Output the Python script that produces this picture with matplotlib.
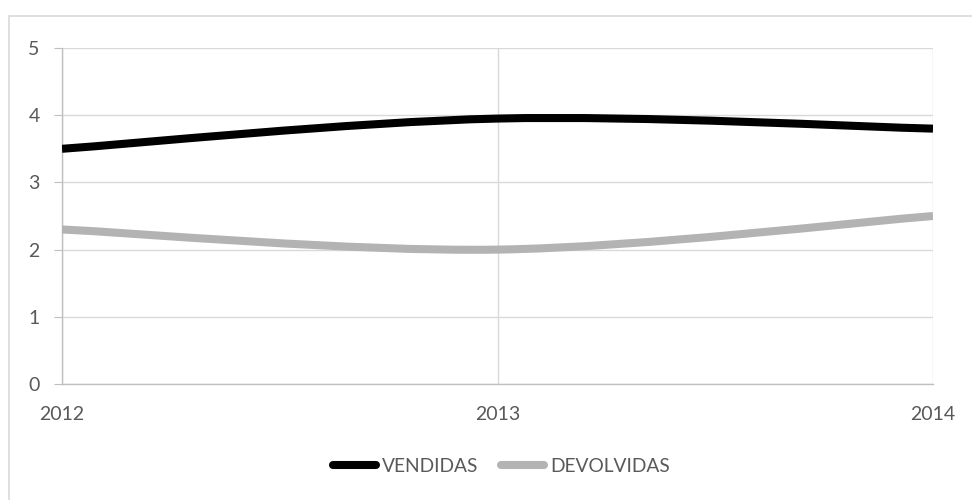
import numpy as np
import matplotlib.pyplot as plt
from matplotlib.path import Path
from matplotlib.patches import PathPatch, Rectangle
from matplotlib.lines import Line2D

plt.rcParams['font.family'] = ['Lato', 'DejaVu Sans']

anos = [2012, 2013, 2014]
vendidas = [3.5, 3.95, 3.8]
devolvidas = [2.3, 2.0, 2.5]
series = [('VENDIDAS', vendidas, '#000000'), ('DEVOLVIDAS', devolvidas, '#b3b3b3')]

fig = plt.figure(figsize=(9.72, 5.0), dpi=100)
# moldura externa do gráfico
fig.patches.append(Rectangle((9 / 972, -0.1), 1.2, 0.1 + (500 - 16) / 500,
                             transform=fig.transFigure, fill=False,
                             edgecolor='#d9d9d9', linewidth=1.2))

ax = fig.add_axes([62 / 972, 116 / 500, (933 - 62) / 972, (384 - 48) / 500])


def curva_suave(x, y):
    # curva bezier passando pelos pontos (estilo linha suavizada)
    x = np.asarray(x, float)
    y = np.asarray(y, float)
    px = np.concatenate([[x[0]], x, [x[-1]]])
    py = np.concatenate([[y[0]], y, [y[-1]]])
    verts = [(x[0], y[0])]
    codes = [Path.MOVETO]
    for i in range(1, len(x)):
        c1 = (px[i] + (px[i + 1] - px[i - 1]) / 6, py[i] + (py[i + 1] - py[i - 1]) / 6)
        c2 = (px[i + 1] - (px[i + 2] - px[i]) / 6, py[i + 1] - (py[i + 2] - py[i]) / 6)
        verts += [c1, c2, (px[i + 1], py[i + 1])]
        codes += [Path.CURVE4] * 3
    return Path(verts, codes)


handles = []
for nome, valores, cor in series:
    ax.add_patch(PathPatch(curva_suave(anos, valores), facecolor='none',
                           edgecolor=cor, linewidth=5.8, capstyle='butt', zorder=3))
    handles.append(Line2D([], [], color=cor, linewidth=5.8, solid_capstyle='round', label=nome))

ax.set_xlim(2012, 2014)
ax.set_ylim(0, 5)
ax.set_xticks(anos)
ax.set_xticklabels([str(a) for a in anos])
ax.set_yticks(range(0, 6))
ax.grid(True, color='#d9d9d9', linewidth=1)
ax.set_axisbelow(True)
for s in ['top', 'right']:
    ax.spines[s].set_visible(False)
for s in ['left', 'bottom']:
    ax.spines[s].set_color('#bfbfbf')
    ax.spines[s].set_linewidth(1)
ax.tick_params(axis='y', length=6, color='#bfbfbf', pad=10, labelsize=14, labelcolor='#595959')
ax.tick_params(axis='x', length=0, pad=16, labelsize=14, labelcolor='#595959')

fig.legend(handles=handles, loc='center', bbox_to_anchor=(0.5155, 0.068), ncol=2,
           frameon=False, fontsize=13.8, labelcolor='#595959', handlelength=2.25,
           handletextpad=0.3, columnspacing=1.2)

fig.savefig('out.png', dpi=100)
